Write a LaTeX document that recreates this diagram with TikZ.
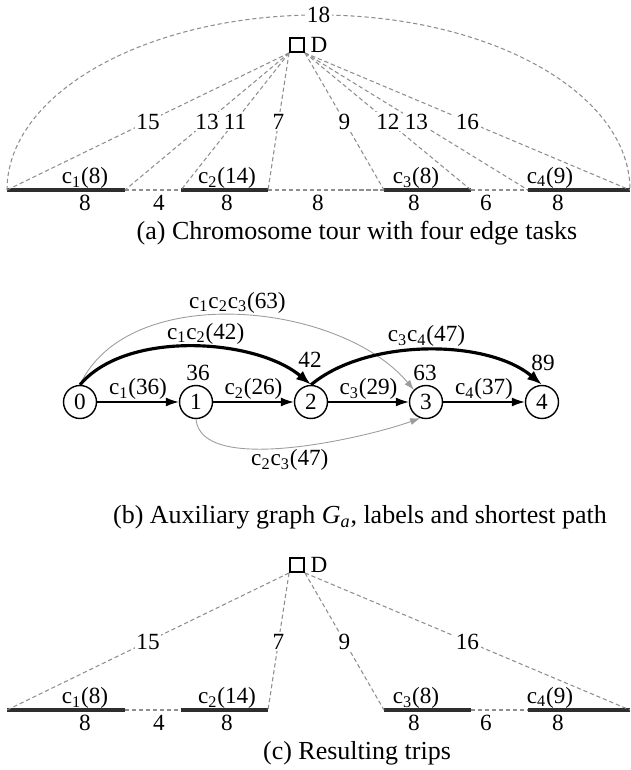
\documentclass[tikz,border=0pt]{standalone}
\usepackage{fontspec}
\setmainfont{Liberation Serif}
\usetikzlibrary{arrows.meta, positioning}
\definecolor{cdash}{HTML}{8E8E8E}
\definecolor{cthin}{HTML}{9C9C9C}
\definecolor{ctask}{HTML}{2E2E2E}
\tikzset{
  every picture/.style={x=0.02cm, y=0.02cm},
  lbl/.style={font=\fontsize{13.2}{15}\selectfont, inner sep=1pt},
  captxt/.style={font=\fontsize{14.8}{17}\selectfont},
  depot/.style={draw, line width=1.1pt, minimum size=0.28cm, inner sep=0pt, label={[lbl, label distance=2pt]right:D}},
  task/.style={line width=1.8pt, draw=ctask},
  deadhead/.style={dash pattern=on 2.4pt off 1.6pt, draw=cdash, line width=0.6pt},
  cost/.style={lbl, fill=white},
  vtx/.style={circle, draw, line width=0.8pt, minimum size=0.66cm, inner sep=0pt, lbl},
  link/.style={-{Latex[length=2.6mm, width=1.8mm]}, line width=0.8pt},
  bestlink/.style={-{Latex[length=3mm, width=2.2mm]}, line width=1.8pt},
  splitlink/.style={-{Latex[length=2mm, width=1.4mm]}, line width=0.5pt, draw=cthin},
}
\begin{document}
\begin{tikzpicture}
  \useasboundingbox (0,0) rectangle (631,770);
  % (a) chromosome tour, depot on top
  \node[depot] (Da) at (297,725) {};
  \foreach \n/\x in {0/7,1/125,2/181,3/268,4/384,5/471,6/528,7/630}
    \coordinate (a\n) at (\x,580);
  \foreach \i/\j in {0/1,2/3,4/5,6/7} \draw[task] (a\i) -- (a\j);
  \foreach \i/\j in {1/2,3/4,5/6} \draw[deadhead] (a\i) -- (a\j);
  \foreach \n/\c in {0/15,1/13,2/11,3/7}
    \draw[deadhead] (Da.south west) -- (a\n) node[cost, midway] (ca\n) {\c};
  \foreach \n/\c in {4/9,5/12,6/13,7/16}
    \draw[deadhead] (Da.south east) -- (a\n) node[cost, midway] (ca\n) {\c};
  \draw[deadhead] (a0) arc[start angle=180, end angle=90, x radius=311.5, y radius=175]
    node[cost] (ca8) {18} arc[start angle=90, end angle=0, x radius=311.5, y radius=175];
  \foreach \k/\x/\w in {1/85/8,2/227/14,3/416/8,4/550/9}
    \node[lbl] (ta\k) at (\x,592) {c\textsubscript{\k}(\w)};
  \foreach \n/\x/\d in {1/85/8,2/159/4,3/227/8,4/318/8,5/414/8,6/486/6,7/558/8}
    \node[lbl] (la\n) at (\x,567) {\d};
  \node[captxt] (capa) at (357,537) {(a) Chromosome tour with four edge tasks};

  % (b) auxiliary graph
  \foreach \i/\x in {0/80,1/196,2/311,3/426,4/542}
    \node[vtx] (v\i) at (\x,368) {\i};
  \foreach \i/\x/\y/\l in {1/198/397/36,2/310/410/42,3/425/397/63,4/543/407/89}
    \node[lbl] (pl\i) at (\x,\y) {\l};
  \foreach \i/\j/\w in {0/1/36,1/2/26,2/3/29,3/4/37}
    \draw[link] (v\i) -- (v\j) node[lbl, above, midway] (e\j) {c\textsubscript{\j}(\w)};
  \draw[splitlink] (v0.north) to[out=65, in=130, looseness=.88]
    node[lbl, above] (e13) {c\textsubscript{1}c\textsubscript{2}c\textsubscript{3}(63)} (v3.135);
  \draw[splitlink] (v1.south) to[out=-85, in=-160, looseness=.65]
    node[lbl, below] (e23) {c\textsubscript{2}c\textsubscript{3}(47)} (v3.-110);
  \draw[bestlink] (v0.north) to[out=50, in=140, looseness=.8]
    node[lbl, above, pos=.55] (e12) {c\textsubscript{1}c\textsubscript{2}(42)} (v2.north);
  \draw[bestlink] (v2.north) to[out=40, in=140, looseness=.8]
    node[lbl, above] (e34) {c\textsubscript{3}c\textsubscript{4}(47)} (v4.north);
  \node[captxt] (capb) at (360,253) {(b) Auxiliary graph \textit{G}\textsubscript{\textit{a}}, labels and shortest path};

  % (c) trips after splitting
  \node[depot] (Dc) at (297,205) {};
  \foreach \n/\x in {0/7,1/125,2/181,3/268,4/384,5/471,6/528,7/630}
    \coordinate (c\n) at (\x,60);
  \foreach \i/\j in {0/1,2/3,4/5,6/7} \draw[task] (c\i) -- (c\j);
  \foreach \i/\j in {1/2,5/6} \draw[deadhead] (c\i) -- (c\j);
  \foreach \n/\c in {0/15,3/7}
    \draw[deadhead] (Dc.south west) -- (c\n) node[cost, midway] (cc\n) {\c};
  \foreach \n/\c in {4/9,7/16}
    \draw[deadhead] (Dc.south east) -- (c\n) node[cost, midway] (cc\n) {\c};
  \foreach \k/\x/\w in {1/85/8,2/227/14,3/416/8,4/550/9}
    \node[lbl] (tc\k) at (\x,72) {c\textsubscript{\k}(\w)};
  \foreach \n/\x/\d in {1/85/8,2/159/4,3/227/8,5/414/8,6/486/6,7/558/8}
    \node[lbl] (lc\n) at (\x,47) {\d};
  \node[captxt] (capc) at (357,17) {(c) Resulting trips};
\end{tikzpicture}
\end{document}
